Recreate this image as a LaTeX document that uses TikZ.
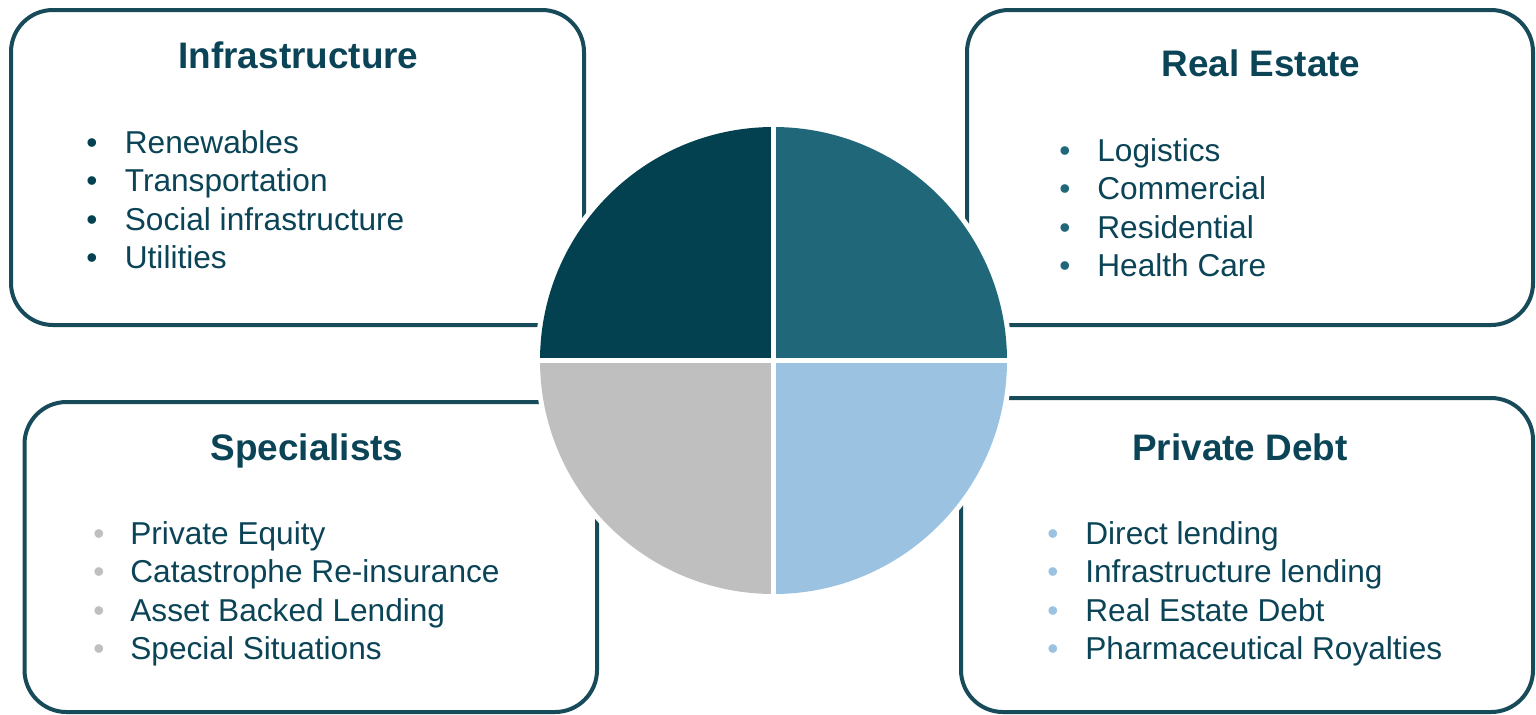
\documentclass[tikz,border=0pt]{standalone}
\usepackage{fontspec}
\setmainfont{Liberation Sans}
\usepackage{tikz}
\usetikzlibrary{positioning}
\definecolor{navy}{HTML}{034050}
\definecolor{teal}{HTML}{21677A}
\definecolor{silver}{HTML}{BFBFBF}
\definecolor{skyblue}{HTML}{9BC2E0}
\definecolor{ink}{HTML}{0B4457}
\definecolor{frame}{HTML}{184B5A}

\begin{document}
\begin{tikzpicture}[
    font=\fontsize{18pt}{21pt}\selectfont,
    panel/.style={draw=frame, line width=0.8mm, rounded corners=8.4mm,
        minimum width=114.4mm, minimum height=62.8mm, fill=white},
    heading/.style={anchor=base, text=ink, inner sep=0pt,
        font=\fontsize{21pt}{24pt}\selectfont\bfseries},
    entry/.style={anchor=base west, text=ink, inner sep=0pt},
    dot/.style={anchor=base, inner sep=0pt}
]
\useasboundingbox (0,0) rectangle (307.2mm,-142.8mm);
% four panels
\node[panel, minimum width=114.6mm, minimum height=63mm] (infra) at (59.5mm,-33.5mm) {};
\node[panel, minimum width=113.2mm, minimum height=63mm] (estate) at (250mm,-33.5mm) {};
\node[panel, minimum width=114.5mm, minimum height=62mm] (special) at (62.15mm,-111.4mm) {};
\node[panel] (debt) at (249.4mm,-111mm) {};
\node[heading] (infrat) at (59.7mm,-13.6mm) {Infrastructure};
\node[heading] (estatet) at (252.2mm,-15.2mm) {Real Estate};
\node[heading] (specialt) at (61.4mm,-92mm) {Specialists};
\node[heading] (debtt) at (248mm,-92mm) {Private Debt};
% bullet lists
\foreach \entrytext [count=\i] in {Renewables, Transportation, Social infrastructure, Utilities}{
    \pgfmathsetmacro{\yy}{-30.6-(\i-1)*7.72}
    \node[dot, text=navy] (infrab\i) at (18.4mm,\yy mm) {•};
    \node[entry] (infrai\i) at (24.9mm,\yy mm) {\entrytext};
}
\foreach \entrytext [count=\i] in {Logistics, Commercial, Residential, Health Care}{
    \pgfmathsetmacro{\yy}{-32.2-(\i-1)*7.72}
    \node[dot, text=teal] (estateb\i) at (213mm,\yy mm) {•};
    \node[entry] (estatei\i) at (219.4mm,\yy mm) {\entrytext};
}
\foreach \entrytext [count=\i] in {Private Equity, Catastrophe Re-insurance, Asset Backed Lending, Special Situations}{
    \pgfmathsetmacro{\yy}{-108.8-(\i-1)*7.72}
    \node[dot, text=silver] (specialb\i) at (19.8mm,\yy mm) {•};
    \node[entry] (speciali\i) at (26mm,\yy mm) {\entrytext};
}
\foreach \entrytext [count=\i] in {Direct lending, Infrastructure lending, Real Estate Debt, Pharmaceutical Royalties}{
    \pgfmathsetmacro{\yy}{-108.8-(\i-1)*7.72}
    \node[dot, text=skyblue] (debtb\i) at (210.6mm,\yy mm) {•};
    \node[entry] (debti\i) at (217mm,\yy mm) {\entrytext};
}
% centre pie
\node[circle, fill=white, minimum size=95.4mm, inner sep=0pt] (pie) at (154.7mm,-72.1mm) {};
\foreach \a/\col in {90/navy, 0/teal, 180/silver, 270/skyblue}{
    \fill[\col] (pie.center) -- ++(\a:46.7mm) arc[start angle=\a, delta angle=90, radius=46.7mm] -- cycle;
}
\draw[white, line width=0.9mm] (pie.north) -- (pie.south);
\draw[white, line width=0.9mm] (pie.west) -- (pie.east);
\end{tikzpicture}
\end{document}
